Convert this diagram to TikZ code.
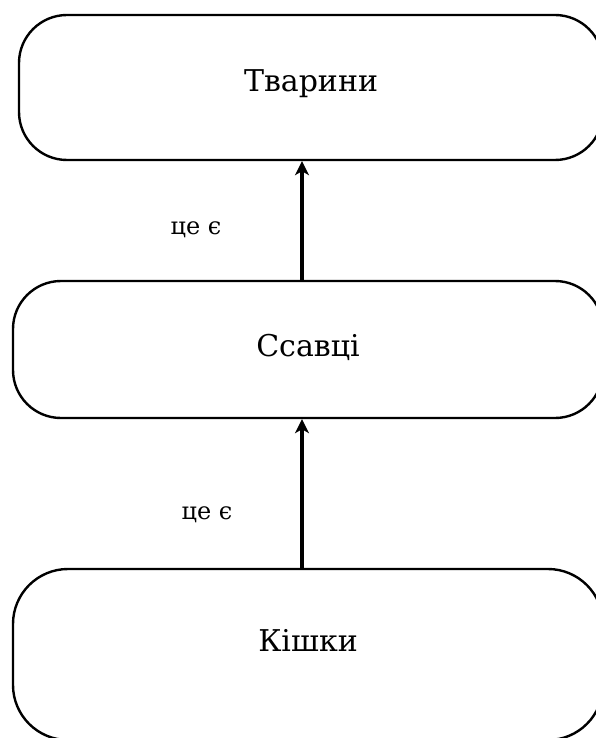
\documentclass[tikz,border=0pt]{standalone}
\usepackage{fontspec}
\setmainfont{DejaVu Serif}
\usepackage{tikz}
\usetikzlibrary{arrows.meta, positioning}

\begin{document}
\begin{tikzpicture}[
    x=1pt, y=1pt,
    classbox/.style={draw, line width=2.4pt, rectangle, inner sep=0pt,
      align=center, text height=25pt, font=\rmfamily\fontsize{30}{34}\selectfont},
    islabel/.style={font=\rmfamily\fontsize{24}{28}\selectfont, inner sep=0pt},
    arrow/.style={line width=4.5pt, -{Stealth[length=14pt, width=14pt, inset=4pt]}}
]
\useasboundingbox (0,0) rectangle (595,-738);

\node[classbox, rounded corners=48pt, minimum width=584pt, minimum height=145pt,
  text depth=16pt] (animals) at (311,-87.5) {Тварини};
\node[classbox, rounded corners=48pt, minimum width=590pt, minimum height=137pt,
  text depth=12pt] (mammals) at (308,-349.5) {Ссавці};
\node[classbox, rounded corners=55pt, minimum width=590pt, minimum height=171pt,
  text depth=32pt] (cats) at (308,-654.5) {Кішки};

\node[islabel] (isa1) at (196,-230) {це є};
\node[islabel] (isa2) at (207,-515) {це є};

\draw[arrow] ([xshift=-6pt]mammals.north) -- ([xshift=-9pt]animals.south);
\draw[arrow] ([xshift=-6pt]cats.north) -- ([xshift=-6pt]mammals.south);
\end{tikzpicture}
\end{document}
